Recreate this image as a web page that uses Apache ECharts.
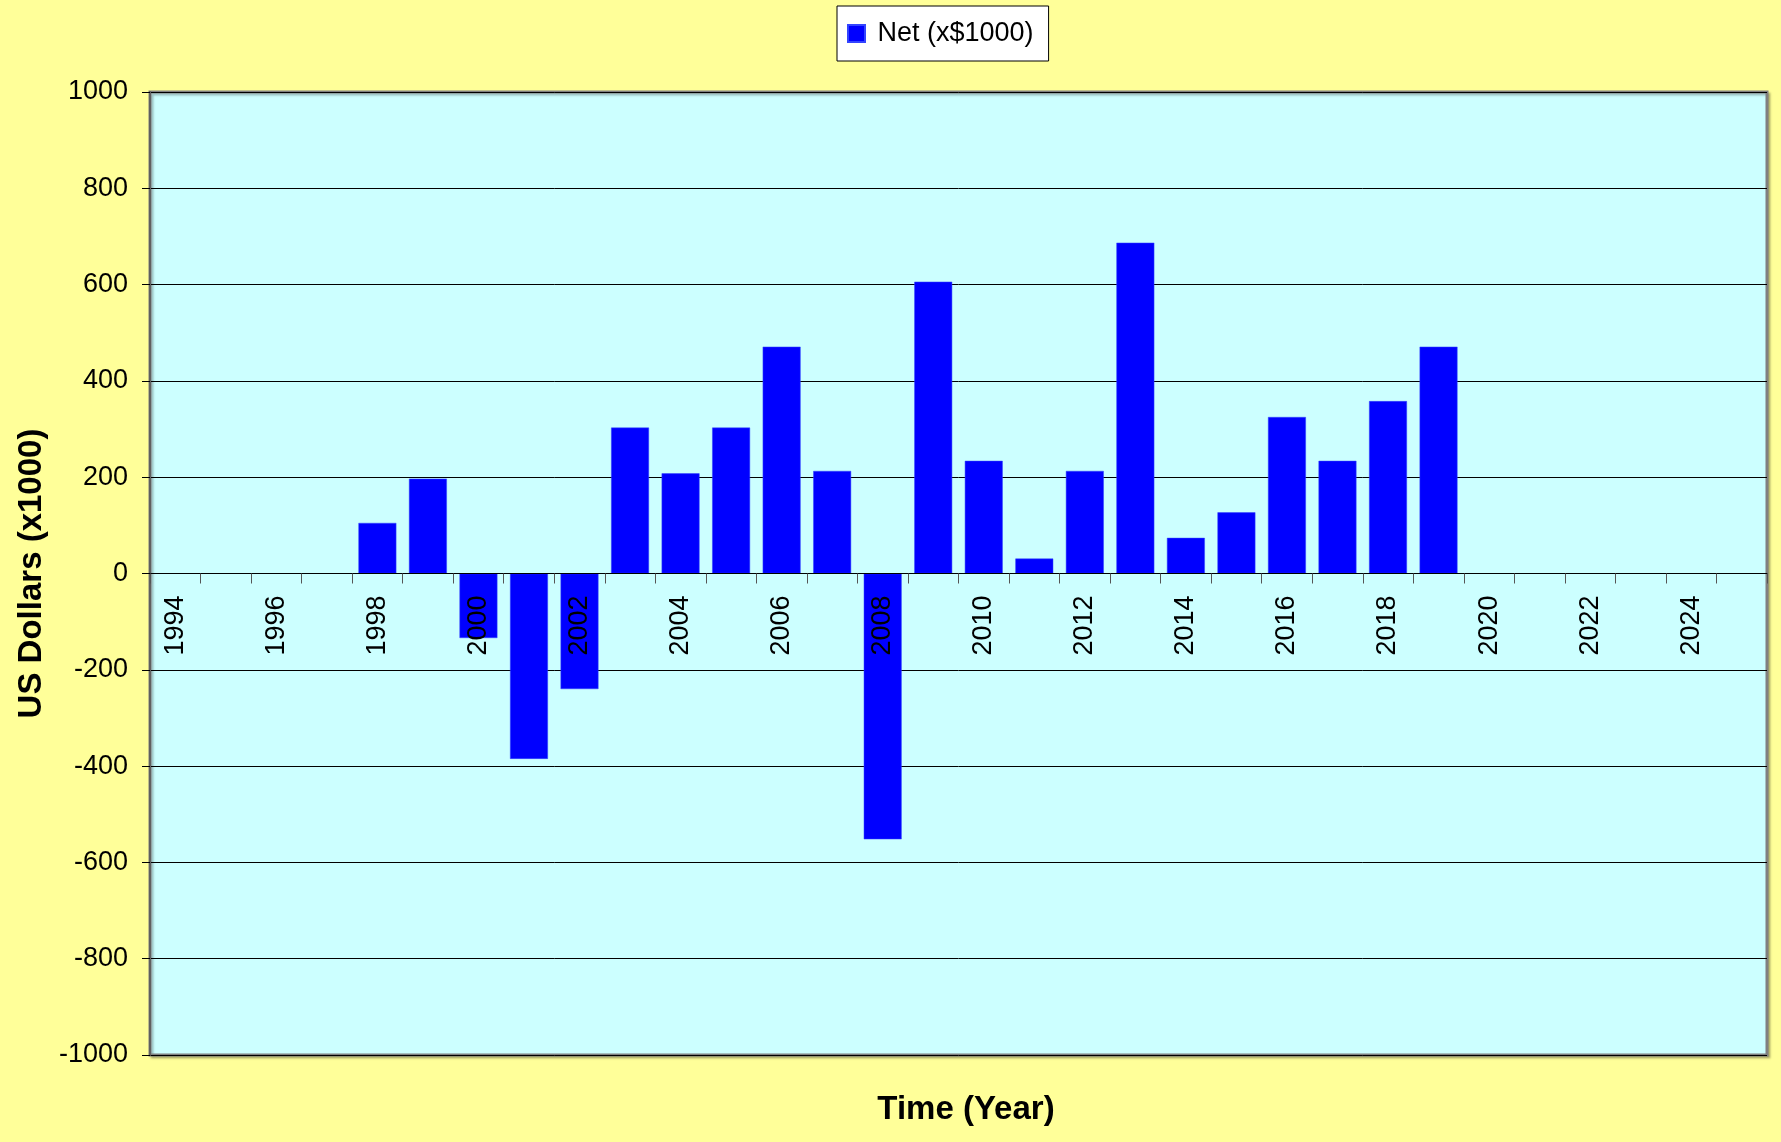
<!DOCTYPE html>
<html>
<head>
<meta charset="utf-8">
<script src="https://cdn.jsdelivr.net/npm/echarts@6/dist/echarts.min.js"></script>
<style>
html,body{margin:0;padding:0;background:#FFFF99;}
#c{width:1781px;height:1142px;}
</style>
</head>
<body>
<div id="c"></div>
<script>
const years = ['1994','1995','1996','1997','1998','1999','2000','2001','2002','2003','2004','2005','2006','2007','2008','2009','2010','2011','2012','2013','2014','2015','2016','2017','2018','2019','2020','2021','2022','2023','2024','2025'];
const netValues = [null,null,null,null,105,197,-134,-385,-240,303,208,303,471,213,-552,606,234,31,213,687,74,127,325,234,358,471,null,null,null,null,null,null];
const seriesName = 'Net (x$1000)';
const yTitle = 'US Dollars (x1000)';
const xTitle = 'Time (Year)';

const chart = echarts.init(document.getElementById('c'));
const font = 'Liberation Sans, Arial, sans-serif';
const gridTop = 92, gridBottom = 87, H = 1142;
const plotH = H - gridTop - gridBottom;
chart.setOption({
  backgroundColor: '#FFFF99',
  animation: false,
  textStyle: {fontFamily: font},
  legend: {
    left: 837, top: 6,
    data: [seriesName],
    formatter: function (n) { return ' ' + n; },
    backgroundColor: '#ffffff',
    borderColor: '#000000', borderWidth: 1,
    padding: [14, 15, 14, 10],
    itemWidth: 17, itemHeight: 17, itemGap: 10,
    textStyle: {fontSize: 27, color: '#000', fontFamily: font},
    icon: 'rect'
  },
  grid: {
    left: 150, top: gridTop, right: 14, bottom: gridBottom,
    show: true, backgroundColor: '#CCFFFF',
    borderColor: '#808080', borderWidth: 3,
    shadowColor: 'rgba(0,0,0,0.25)', shadowOffsetX: 2, shadowOffsetY: 2, shadowBlur: 2
  },
  graphic: [{
    type: 'text', x: 966, y: 1110,
    style: {text: xTitle, fontSize: 33, fontWeight: 'bold', fill: '#000', fontFamily: font, align: 'center', verticalAlign: 'middle', textAlign: 'center', textVerticalAlign: 'middle'}
  }],
  xAxis: {
    type: 'category',
    data: years,
    position: 'bottom',
    offset: -plotH / 2,
    z: 5,
    axisLine: {onZero: false, lineStyle: {color: '#000', width: 1}},
    axisTick: {show: true, interval: 0, alignWithLabel: false, length: 10, lineStyle: {color: '#555'}},
    axisLabel: {interval: 1, rotate: 90, margin: 22, fontSize: 27, color: '#000', fontFamily: font},
    splitLine: {show: false}
  },
  yAxis: {
    type: 'value',
    min: -1000, max: 1000, interval: 200,
    name: yTitle, nameLocation: 'middle', nameGap: 92,
    nameTextStyle: {fontSize: 33, fontWeight: 'bold', color: '#000', fontFamily: font},
    axisLine: {show: true, lineStyle: {color: '#606060', width: 2}},
    axisTick: {show: true, length: 8, lineStyle: {color: '#000'}},
    axisLabel: {margin: 22, fontSize: 27, color: '#000', fontFamily: font, formatter: function (v) { return String(v); }},
    splitLine: {show: true, lineStyle: {color: '#000', width: 1}}
  },
  series: [{
    name: seriesName,
    type: 'bar',
    data: netValues,
    barCategoryGap: '25%',
    itemStyle: {color: '#0000FF', borderColor: '#3344ff', borderWidth: 0.5}
  }]
});
</script>
</body>
</html>
